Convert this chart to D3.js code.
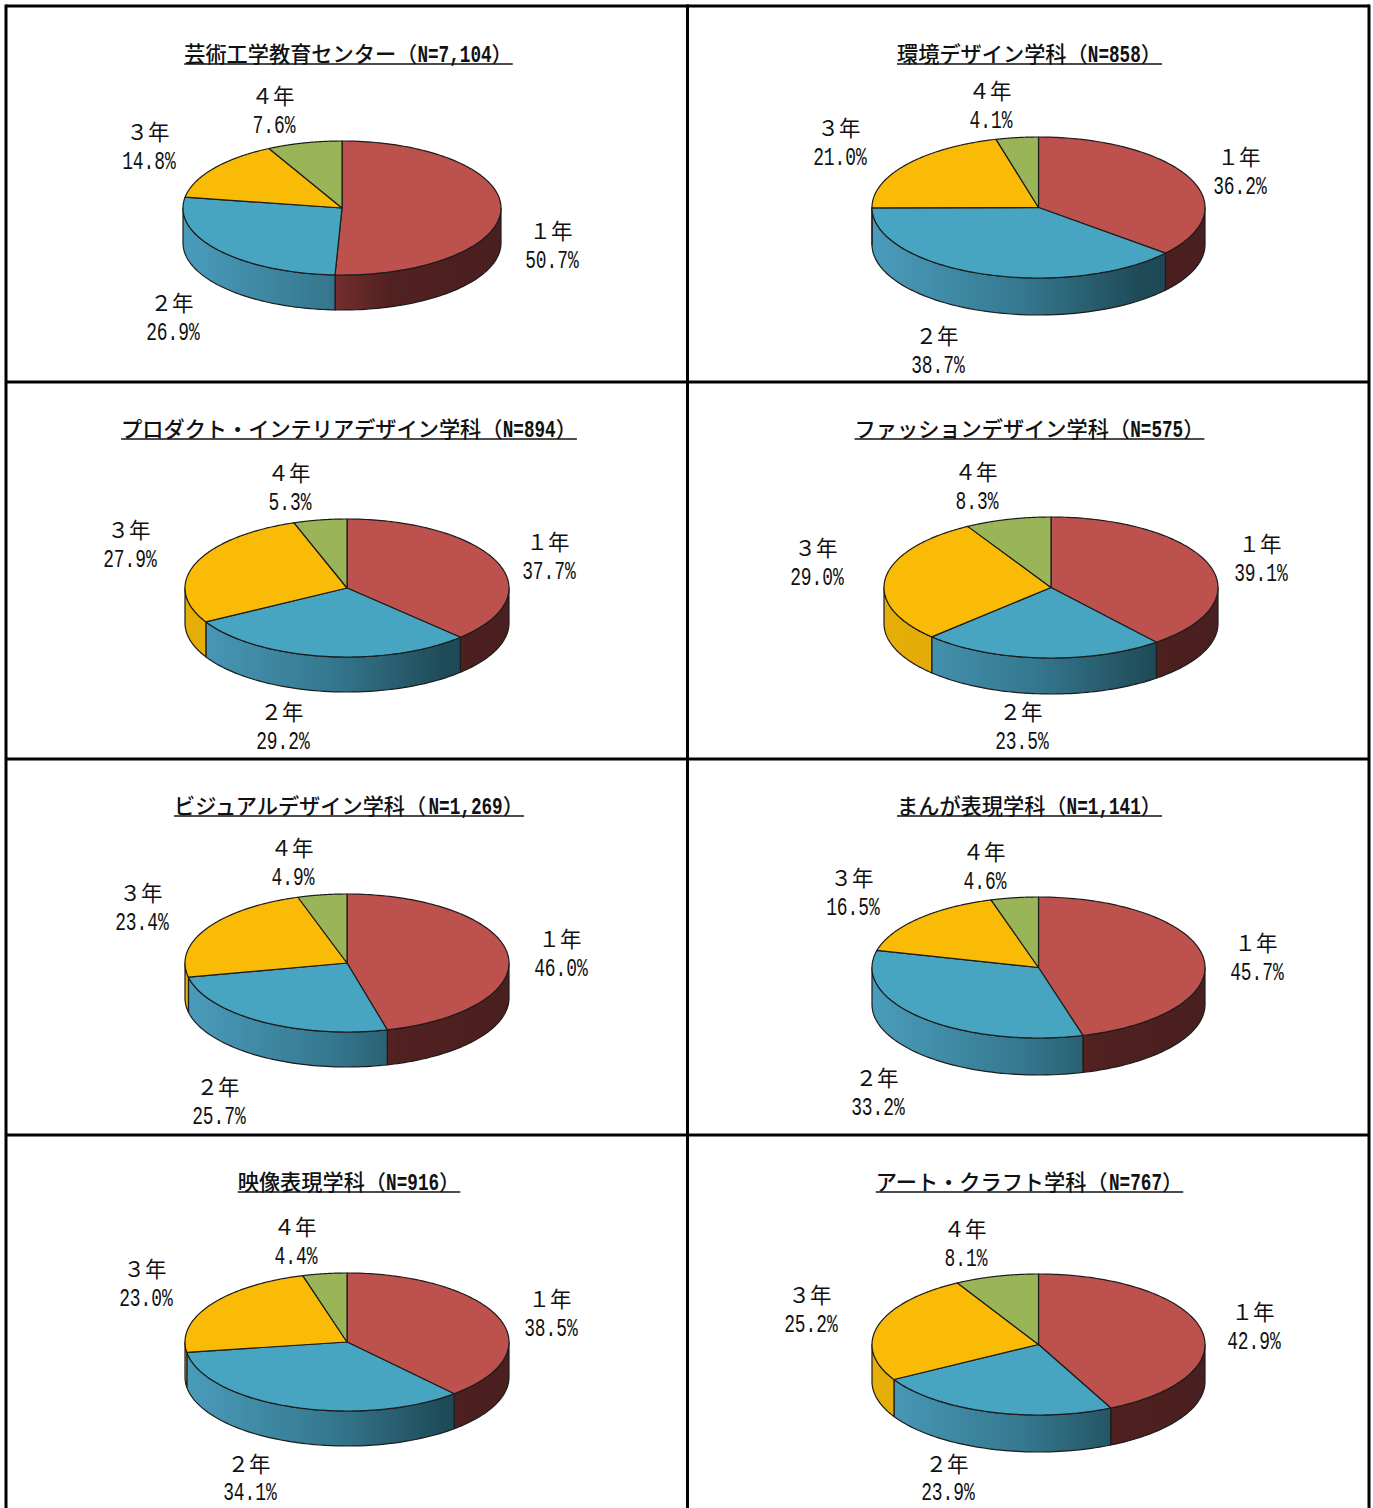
<!DOCTYPE html>
<html>
<head>
<meta charset="utf-8">
<script src="https://cdn.jsdelivr.net/npm/d3@7"></script>
<style>
html, body { margin: 0; padding: 0; background: #fff; }
svg { display: block; }
</style>
</head>
<body>
<div id="container"></div>
<script>
// data
const categories = ["１年", "２年", "３年", "４年"]
const titles = [
    "芸術工学教育センター（N=7,104）",
    "環境デザイン学科（N=858）",
    "プロダクト・インテリアデザイン学科（N=894）",
    "ファッションデザイン学科（N=575）",
    "ビジュアルデザイン学科（N=1,269）",
    "まんが表現学科（N=1,141）",
    "映像表現学科（N=916）",
    "アート・クラフト学科（N=767）"
]
const center_values = [50.7, 26.9, 14.8, 7.6]
const kankyo_values = [36.2, 38.7, 21.0, 4.1]
const product_values = [37.7, 29.2, 27.9, 5.3]
const fashion_values = [39.1, 23.5, 29.0, 8.3]
const visual_values = [46.0, 25.7, 23.4, 4.9]
const manga_values = [45.7, 33.2, 16.5, 4.6]
const eizo_values = [38.5, 34.1, 23.0, 4.4]
const art_values = [42.9, 23.9, 25.2, 8.1]
const series = [center_values, kankyo_values, product_values, fashion_values,
    visual_values, manga_values, eizo_values, art_values]

// layout, kept apart from the values
const width = 1373, height = 1508
const colX = [6, 687.5, 1369]
const rowY = [6, 382, 759, 1135]
const titleBase = [62, 62, 437, 437, 814, 814, 1190, 1190]
const titleMid = [348.5, 1029.5, 349, 1029.5, 349, 1029.5, 349, 1029.5]
const pies = [
    { cx: 342, cy: 208, rx: 159, ry: 67, depth: 35 },
    { cx: 1038.5, cy: 207.5, rx: 166.5, ry: 70.5, depth: 37 },
    { cx: 347, cy: 588, rx: 162, ry: 69, depth: 35 },
    { cx: 1051, cy: 587.5, rx: 167, ry: 70.5, depth: 36 },
    { cx: 347, cy: 963, rx: 162, ry: 69, depth: 35 },
    { cx: 1038.5, cy: 967.5, rx: 166.5, ry: 70.5, depth: 37 },
    { cx: 347, cy: 1342, rx: 162, ry: 69, depth: 35 },
    { cx: 1038.5, cy: 1344.5, rx: 166.5, ry: 70.5, depth: 37 }
]
const labelPos = [
    [[551, 231], [172, 303], [148, 132], [273, 96]],
    [[1239, 157], [937, 336], [839, 128], [990, 91]],
    [[548, 542], [282, 712], [129, 530], [289, 473]],
    [[1260, 544], [1021, 712], [816, 548], [976, 472]],
    [[560, 939], [218, 1087], [141, 893], [292, 848]],
    [[1256, 943], [877, 1078], [852, 878], [984, 852]],
    [[550, 1299], [249, 1463.5], [145, 1269], [295, 1227]],
    [[1253, 1312], [947, 1463.5], [810, 1295], [965, 1229]]
]
const topColors = ["#bc514d", "#47a5c2", "#f9bb05", "#99b558"]
const sideStops = [
    [[0, "#9a3e3c"], [0.45, "#7a3030"], [0.65, "#512120"], [1, "#4a1f1f"]],
    [[0, "#4a9cbc"], [0.45, "#35788f"], [0.8, "#1f4b58"], [1, "#1c4450"]],
    [[0, "#e6ae08"], [1, "#d49c00"]],
    [[0, "#7f9648"], [1, "#5f7036"]]
]
const outline = "#1c1c1c"
const monoFont = "'Liberation Mono', monospace"
const gothicFont = "'Noto Sans CJK JP', sans-serif"

const svg = d3.select("div#container").append("svg")
    .attr("width", width)
    .attr("height", height)

const defs = svg.append("defs")
const pct = d3.format(".1f")
const pieLayout = d3.pie().sort(null).value(d => d)
const front = [Math.PI / 2, 3 * Math.PI / 2]

// mono glyphs squeezed sideways to the advance of the original half width gothic
function halfText(g, str, x, y, size, advance) {
    return g.append("text")
        .attr("transform", `translate(${x},${y}) scale(${advance / (0.6 * size)},1)`)
        .attr("font-family", monoFont)
        .attr("font-size", size)
        .attr("fill", "#111")
        .text(str)
}

function drawTitle(i) {
    const size = 21.2
    const isHalf = r => /^[\x20-\x7e]/.test(r)
    const runs = titles[i].match(/[\x20-\x7e]+|[^\x20-\x7e]+/g)
    const runWidth = r => isHalf(r) ? r.length * size / 2 : r.length * size
    const total = d3.sum(runs, runWidth)
    const left = titleMid[i] - total / 2
    const g = svg.append("g").attr("class", "title")
    let x = left
    runs.forEach(r => {
        if (isHalf(r)) {
            halfText(g, r, x, titleBase[i], 24, size / 2).attr("font-weight", "bold")
        } else {
            g.append("text")
                .attr("x", x)
                .attr("y", titleBase[i])
                .attr("font-family", gothicFont)
                .attr("font-size", size)
                .attr("font-weight", 500)
                .attr("fill", "#111")
                .text(r)
        }
        x += runWidth(r)
    })
    g.append("line")
        .attr("x1", left).attr("x2", left + total)
        .attr("y1", titleBase[i] + 2).attr("y2", titleBase[i] + 2)
        .attr("stroke", "#111").attr("stroke-width", 1.4)
}

function drawPie(i) {
    const p = pies[i]
    const slices = pieLayout(series[i])
    const xAt = d3.scaleLinear().domain([0, 1]).range([p.cx, p.cx + p.rx])
    const yAt = d3.scaleLinear().domain([0, 1]).range([p.cy, p.cy + p.ry])
    const rimX = a => xAt(Math.sin(a))
    const rimY = a => yAt(-Math.cos(a))
    const g = svg.append("g").attr("class", "pie")
    const line = d3.line().x(d => d[0]).y(d => d[1])

    // side wall of the slices that face the viewer
    slices.forEach((s, k) => {
        const a0 = Math.max(s.startAngle, front[0])
        const a1 = Math.min(s.endAngle, front[1])
        if (a1 <= a0) return
        const gradId = `side-${i}-${k}`
        defs.append("linearGradient")
            .attr("id", gradId)
            .attr("gradientUnits", "userSpaceOnUse")
            .attr("x1", p.cx - p.rx).attr("x2", p.cx + p.rx)
            .attr("y1", 0).attr("y2", 0)
            .selectAll("stop").data(sideStops[k]).join("stop")
            .attr("offset", d => d[0])
            .attr("stop-color", d => d[1])
        const steps = d3.range(0, 61).map(t => a0 + (a1 - a0) * t / 60)
        const upper = steps.map(a => [rimX(a), rimY(a)])
        const lower = steps.slice().reverse().map(a => [rimX(a), rimY(a) + p.depth])
        g.append("path")
            .attr("d", line(upper.concat(lower)) + "Z")
            .attr("fill", `url(#${gradId})`)
            .attr("stroke", outline)
            .attr("stroke-width", 1.2)
            .attr("stroke-linejoin", "round")
    })

    // top face
    slices.forEach((s, k) => {
        const steps = d3.range(0, 121).map(t => s.startAngle + (s.endAngle - s.startAngle) * t / 120)
        const rim = steps.map(a => [rimX(a), rimY(a)])
        g.append("path")
            .attr("d", line([[p.cx, p.cy]].concat(rim)) + "Z")
            .attr("fill", topColors[k])
            .attr("stroke", outline)
            .attr("stroke-width", 1.2)
            .attr("stroke-linejoin", "round")
    })
}

function drawLabels(i) {
    const g = svg.append("g").attr("class", "labels")
    categories.forEach((c, k) => {
        const [x, y] = labelPos[i][k]
        g.append("text")
            .attr("x", x)
            .attr("y", y + 8)
            .attr("text-anchor", "middle")
            .attr("font-family", gothicFont)
            .attr("font-size", 21.5)
            .attr("fill", "#111")
            .text(c)
        const str = pct(series[i][k]) + "%"
        halfText(g, str, x + 1 - str.length * 10.75 / 2, y + 36.5, 25, 10.75)
    })
}

titles.forEach((t, i) => {
    drawTitle(i)
    drawPie(i)
    drawLabels(i)
})

// table grid, the sheet is cut off below the last row
const grid = svg.append("g").attr("class", "grid").attr("stroke", "#000").attr("stroke-width", 3)
colX.forEach(x => grid.append("line").attr("x1", x).attr("x2", x).attr("y1", rowY[0] - 1.5).attr("y2", height))
rowY.forEach(y => grid.append("line").attr("x1", colX[0]).attr("x2", colX[2]).attr("y1", y).attr("y2", y))
</script>
</body>
</html>
